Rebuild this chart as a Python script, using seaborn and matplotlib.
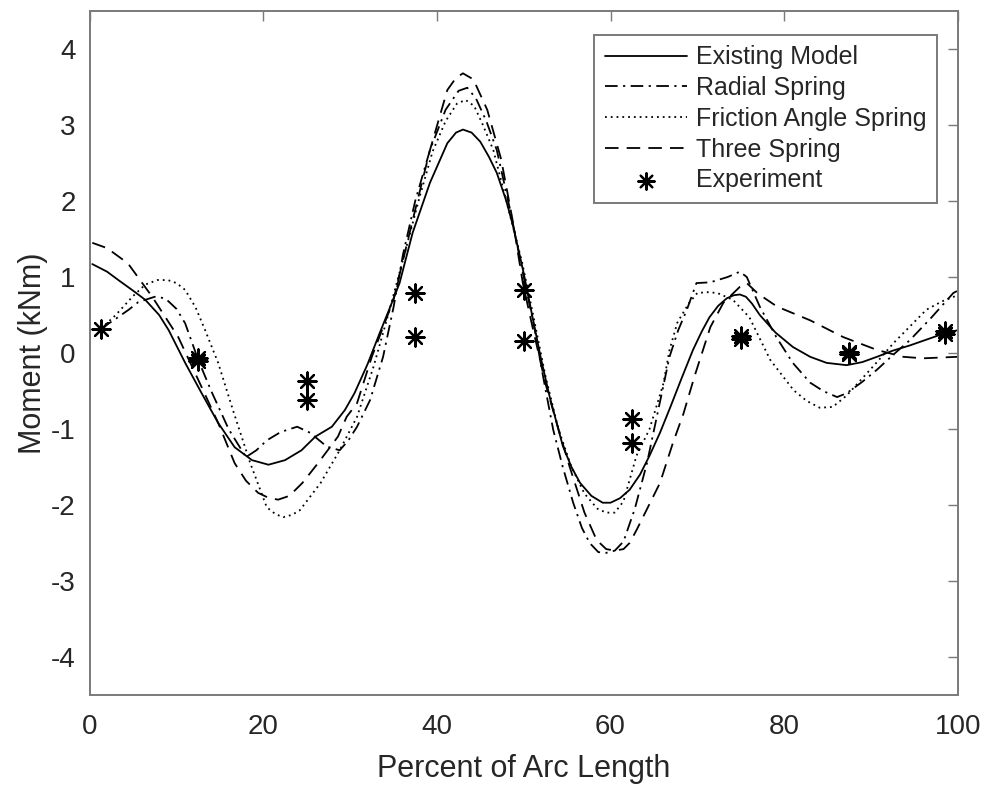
import matplotlib
matplotlib.use("Agg")
import matplotlib.pyplot as plt
import seaborn as sns

# ---- series data: percent of arc length vs moment (kNm) ----
existing_x = [0.3, 2.0, 3.3, 5.0, 6.4, 8.0, 9.1, 11.0, 12.9, 14.8, 16.7, 18.7, 20.6, 22.5,
              24.4, 26.0, 27.9, 29.4, 30.5, 32.0, 33.4, 34.6, 35.7, 37.2, 39.2, 41.2, 42.2,
              43.0, 44.0, 45.0, 46.0, 46.9, 48.0, 48.8, 50.0, 51.0, 52.0, 53.0, 54.5, 55.5,
              56.5, 57.8, 59.1, 60.0, 61.1, 62.2, 63.4, 64.5, 65.7, 66.9, 68.2, 69.5, 70.5,
              71.4, 72.4, 73.4, 74.2, 74.9, 75.6, 76.3, 77.2, 79.0, 81.0, 83.0, 84.9, 87.2,
              89.0, 90.7, 92.5, 94.5, 96.5, 98.5, 100.0]
existing_y = [1.17, 1.07, 0.96, 0.82, 0.70, 0.50, 0.30, -0.13, -0.53, -0.92, -1.24, -1.41,
              -1.47, -1.41, -1.28, -1.10, -0.97, -0.75, -0.53, -0.15, 0.26, 0.60, 0.92, 1.58,
              2.24, 2.76, 2.90, 2.94, 2.90, 2.78, 2.58, 2.37, 2.00, 1.66, 1.05, 0.48, -0.08,
              -0.58, -1.22, -1.50, -1.71, -1.88, -1.97, -1.97, -1.91, -1.80, -1.60, -1.35,
              -1.05, -0.71, -0.33, 0.04, 0.28, 0.47, 0.62, 0.72, 0.76, 0.77, 0.74, 0.65, 0.50,
              0.27, 0.08, -0.05, -0.13, -0.16, -0.12, -0.05, 0.03, 0.10, 0.18, 0.26, 0.30]

radial_x = [1.3, 3.0, 4.5, 5.6, 7.5, 8.7, 10.0, 11.0, 12.5, 14.0, 16.0, 18.0, 19.2, 20.4,
            22.0, 23.9, 25.4, 27.3, 28.8, 29.8, 30.8, 32.3, 33.8, 35.0, 36.1, 37.5, 39.2,
            41.0, 42.5, 43.5, 44.5, 45.7, 46.9, 48.5, 50.0, 51.2, 52.3, 53.4, 54.5, 55.7,
            56.7, 57.6, 58.6, 59.5, 60.5, 61.5, 62.8, 64.2, 65.5, 66.8, 67.8, 68.8, 69.9,
            71.5, 73.5, 74.9, 75.7, 77.2, 79.1, 81.0, 83.0, 84.5, 86.1, 87.2, 89.0, 90.7,
            92.5, 94.5, 97.0, 99.5, 100.0]
radial_y = [0.32, 0.45, 0.57, 0.67, 0.74, 0.72, 0.58, 0.39, -0.09, -0.50, -1.00, -1.37,
            -1.28, -1.15, -1.04, -0.97, -1.05, -1.23, -1.28, -1.15, -0.97, -0.62, -0.05,
            0.60, 1.30, 2.00, 2.67, 3.20, 3.45, 3.49, 3.35, 3.05, 2.67, 1.85, 1.00, 0.35,
            -0.35, -1.01, -1.50, -1.97, -2.30, -2.50, -2.62, -2.63, -2.60, -2.48, -2.05,
            -1.45, -0.75, -0.05, 0.30, 0.57, 0.92, 0.93, 1.00, 1.07, 1.00, 0.61, 0.21, -0.13,
            -0.39, -0.50, -0.58, -0.53, -0.38, -0.22, -0.03, 0.17, 0.47, 0.79, 0.82]

friction_x = [1.3, 3.0, 5.0, 6.4, 7.8, 9.0, 10.0, 11.0, 12.2, 13.3, 14.8, 16.5, 18.5, 20.4,
              21.4, 22.3, 23.3, 24.2, 26.6, 28.8, 30.8, 32.7, 34.5, 36.5, 38.0, 39.5, 41.0,
              42.3, 43.3, 44.3, 45.3, 46.5, 48.0, 49.8, 51.0, 52.5, 54.0, 55.5, 57.0, 58.5,
              59.5, 60.5, 61.5, 63.0, 64.5, 66.1, 66.8, 67.7, 69.0, 70.0, 71.2, 72.3, 74.1,
              76.0, 78.4, 81.1, 82.6, 84.1, 85.6, 87.2, 88.8, 90.7, 92.6, 94.5, 96.4, 98.2,
              100.0]
friction_y = [0.32, 0.50, 0.75, 0.90, 0.96, 0.96, 0.92, 0.83, 0.60, 0.30, -0.13, -0.75,
              -1.45, -2.03, -2.12, -2.16, -2.13, -2.07, -1.71, -1.28, -0.84, -0.18, 0.55,
              1.40, 2.05, 2.65, 3.05, 3.28, 3.33, 3.25, 3.00, 2.67, 2.00, 1.20, 0.55, -0.30,
              -1.00, -1.50, -1.85, -2.05, -2.10, -2.10, -1.95, -1.35, -1.00, -0.40, 0.04,
              0.40, 0.65, 0.79, 0.80, 0.79, 0.70, 0.47, -0.09, -0.49, -0.63, -0.72, -0.71,
              -0.56, -0.36, -0.12, 0.13, 0.35, 0.57, 0.68, 0.76]

three_x = [0.3, 2.0, 4.4, 7.2, 10.2, 12.9, 14.8, 16.7, 18.0, 19.4, 20.5, 21.7, 23.0, 24.5,
           26.3, 28.6, 29.6, 30.8, 32.5, 35.0, 37.3, 39.2, 41.2, 42.2, 43.0, 44.2, 45.8,
           47.4, 48.8, 49.9, 51.0, 52.5, 54.0, 55.3, 57.0, 58.4, 59.5, 60.5, 61.5, 62.2,
           63.0, 65.7, 67.2, 68.4, 69.7, 71.5, 73.0, 74.9, 75.7, 77.0, 79.2, 83.0, 86.8,
           90.7, 93.7, 96.0, 100.0]
three_y = [1.45, 1.38, 1.18, 0.74, 0.21, -0.45, -0.92, -1.45, -1.68, -1.84, -1.90, -1.93,
           -1.88, -1.71, -1.45, -1.10, -0.84, -0.66, -0.05, 0.70, 1.79, 2.67, 3.46, 3.62,
           3.68, 3.60, 3.20, 2.55, 1.70, 0.92, 0.35, -0.40, -1.00, -1.50, -2.10, -2.46,
           -2.58, -2.60, -2.58, -2.50, -2.33, -1.71, -1.18, -0.80, -0.30, 0.34, 0.66, 0.87,
           0.92, 0.78, 0.61, 0.43, 0.21, 0.04, -0.05, -0.07, -0.05]

exp_x = [1.3, 12.5, 12.5, 25.0, 25.0, 37.5, 37.5, 50.0, 50.0, 62.5, 62.5,
         75.0, 75.0, 87.5, 87.5, 98.5, 98.5]
exp_y = [0.32, -0.07, -0.11, -0.37, -0.62, 0.79, 0.21, 0.83, 0.16, -0.87, -1.18,
         0.19, 0.23, -0.01, 0.01, 0.25, 0.29]

series_labels = ["Existing Model", "Radial Spring", "Friction Angle Spring", "Three Spring"]
x_ticks = [0, 20, 40, 60, 80, 100]
y_ticks = [-4, -3, -2, -1, 0, 1, 2, 3, 4]

# ---- styling ----
sns.set_style("white")
plt.rcParams["font.family"] = ["Liberation Sans", "DejaVu Sans"]
plt.rcParams["axes.unicode_minus"] = False
axis_grey = "#7a7a7a"
text_grey = "#262626"

fig = plt.figure(figsize=(9.88, 7.97), dpi=100)
ax = fig.add_axes([89.7 / 988, 1 - 695 / 797, 868 / 988, 684 / 797])

lw = 1.3
styles = [
    "-",
    (0, (7, 3, 1.2, 3)),
    (0, (1, 2.2)),
    (0, (7.5, 4.5)),
]
series = [
    (existing_x, existing_y),
    (radial_x, radial_y),
    (friction_x, friction_y),
    (three_x, three_y),
]
for (xs, ys), label, ls in zip(series, series_labels, styles):
    sns.lineplot(x=xs, y=ys, ax=ax, color="black", linewidth=lw, linestyle=ls,
                 sort=False, estimator=None, label=label)

sns.scatterplot(x=exp_x, y=exp_y, ax=ax, marker=(8, 2, 0), s=170, color="black",
                edgecolor="black", linewidth=1.6, label="Experiment", zorder=5)

ax.set_xlim(0, 100)
ax.set_ylim(-4.5, 4.5)
ax.set_xticks(x_ticks)
ax.set_yticks(y_ticks)
ax.tick_params(direction="in", top=True, right=True, length=7, width=1.0,
               color=axis_grey, labelsize=20, labelcolor=text_grey)
ax.tick_params(axis="x", pad=14)
ax.tick_params(axis="y", pad=10)
for sp in ax.spines.values():
    sp.set_color(axis_grey)
    sp.set_linewidth(1.4)

ax.set_xlabel("Percent of Arc Length", fontsize=22, color=text_grey, labelpad=10)
ax.set_ylabel("Moment (kNm)", fontsize=22, color=text_grey, labelpad=2)

leg = ax.legend(loc="upper right", bbox_to_anchor=(0.976, 0.965), borderaxespad=0,
                fontsize=18, handlelength=3.3, handletextpad=0.35, labelspacing=0.27,
                borderpad=0.42, frameon=True, fancybox=False, framealpha=1,
                edgecolor=axis_grey, markerscale=0.9)
leg.get_frame().set_linewidth(1.4)
for t in leg.get_texts():
    t.set_color(text_grey)

fig.savefig("out.png", dpi=100)
